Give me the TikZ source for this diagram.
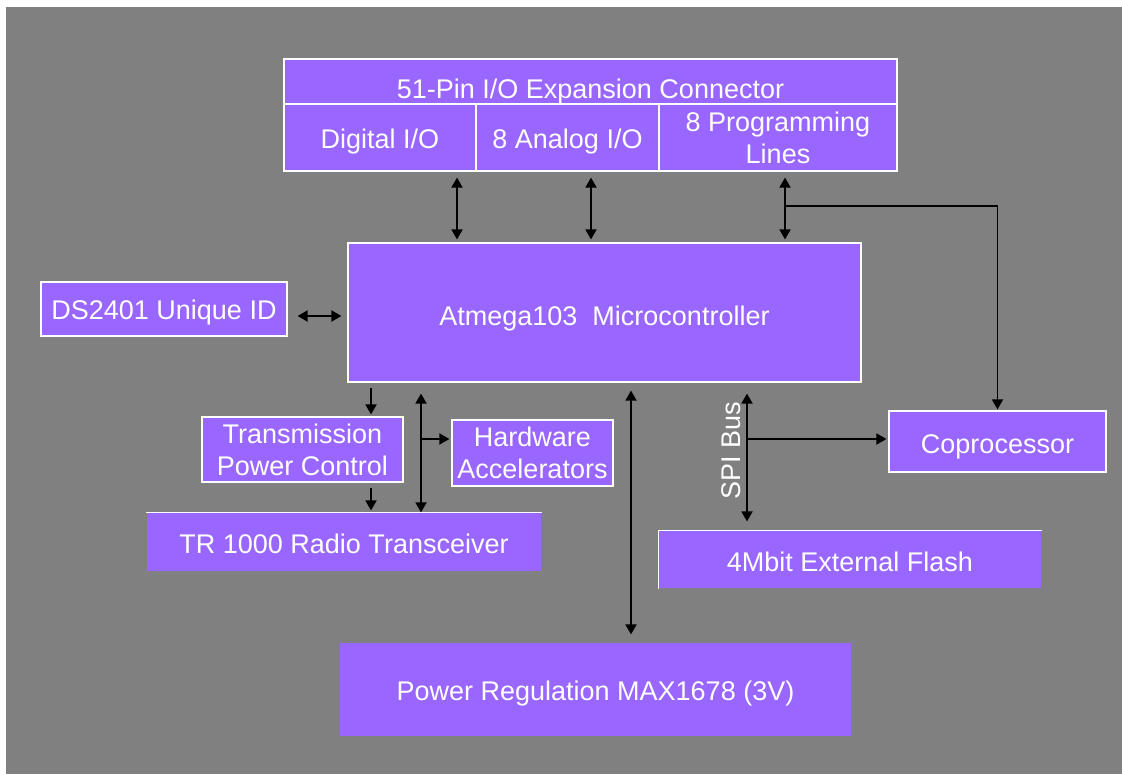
\documentclass[tikz,border=0pt]{standalone}
\usepackage{fontspec}
\setmainfont{Liberation Sans}
\usetikzlibrary{arrows.meta}
\definecolor{bg}{HTML}{808080}
\definecolor{boxc}{HTML}{9966FF}
\begin{document}
\begin{tikzpicture}[x=1pt,y=-1pt,
  blk/.style={fill=boxc, draw=white, line width=1.2pt, text=white, inner sep=0pt, font=\fontsize{27}{32}\selectfont, align=center},
  nob/.style={blk, draw=none},
  one/.style={text height=#1, text depth=0pt},
  con/.style={draw=black, line width=1.8pt, -{Triangle[width=11pt,length=10pt]}},
  dbl/.style={draw=black, line width=1.8pt, {Triangle[width=11pt,length=10pt]}-{Triangle[width=11pt,length=10pt]}},
  lbl/.style={text=white, inner sep=0pt, font=\fontsize{27}{32}\selectfont}]
\useasboundingbox (0,0) rectangle (1122,774);
\fill[bg] (6,7) rectangle (1122,774);

% top connector
\node[blk, one=33pt, minimum width=613pt, minimum height=45pt] (title) at (590.5,81.5) {51-Pin I/O Expansion Connector};
\node[blk, one=21pt, minimum width=192pt, minimum height=67pt] (dio) at (380,137.5) {Digital I/O};
\node[blk, one=21pt, minimum width=183pt, minimum height=67pt] (aio) at (567.5,137.5) {8 Analog I/O};
\node[blk, minimum width=238pt, minimum height=67pt] (pio) at (778,137.5) {8 Programming\\Lines};

% main blocks
\node[blk, one=26.5pt, minimum width=513pt, minimum height=139pt] (micro) at (604.5,312.5) {Atmega103\ \ Microcontroller};
\node[blk, one=21.5pt, minimum width=246pt, minimum height=54pt] (ds) at (164,309) {DS2401 Unique ID};
\node[blk, minimum width=201pt, minimum height=65pt] (tpc) at (302.5,449.5) {Transmission\\Power Control};
\node[blk, minimum width=161pt, minimum height=66pt] (hwa) at (532.5,453) {Hardware\\Accelerators};
\node[nob, one=23.4pt, minimum width=394pt, minimum height=58pt] (tr) at (344,542) {TR 1000 Radio Transceiver};
\node[blk, one=24.4pt, minimum width=217pt, minimum height=61pt] (coproc) at (997.5,441.5) {Coprocessor};
\node[nob, one=24.4pt, minimum width=382pt, minimum height=57pt] (flash) at (850,559.5) {4Mbit External Flash};
\node[nob, one=22.4pt, minimum width=511pt, minimum height=93pt] (power) at (595.5,689.5) {Power Regulation MAX1678 (3V)};
\draw[white, line width=1.2pt] (tr.north west) -- (tr.north east);
\draw[white, line width=1.2pt] (flash.south west) -- (flash.north west) -- (flash.north east);

\node[lbl, rotate=90] (spi) at (731,451) {SPI Bus};

% connector x positions
\coordinate (c1) at (457,0);
\coordinate (c2) at (591,0);
\coordinate (c3) at (785,0);
\coordinate (c4) at (371,0);
\coordinate (c5) at (421,0);
\coordinate (c6) at (631,0);
\coordinate (c7) at (747,0);
\coordinate (j1) at (785,206);
\coordinate (j2) at (421,439);
\coordinate (j3) at (747,439);
\coordinate (j4) at (0,316);

% top arrows
\draw[dbl, shorten <=6pt, shorten >=3pt] (c1 |- dio.south) -- (c1 |- micro.north);
\draw[dbl, shorten <=6pt, shorten >=3pt] (c2 |- aio.south) -- (c2 |- micro.north);
\draw[dbl, shorten <=6pt, shorten >=3pt] (c3 |- pio.south) -- (c3 |- micro.north);
\draw[con, shorten >=1pt] (j1) -| (coproc.north);

% left
\draw[dbl, shorten <=10pt, shorten >=6pt] (j4 -| ds.east) -- (j4 -| micro.west);

% bottom left
\draw[con, shorten <=5pt, shorten >=2pt] (c4 |- micro.south) -- (c4 |- tpc.north);
\draw[con, shorten <=5pt, shorten >=2pt] (c4 |- tpc.south) -- (c4 |- tr.north);
\draw[dbl, shorten <=11pt, shorten >=0pt] (c5 |- micro.south) -- (c5 |- tr.north);
\draw[con, shorten >=2pt] (j2) -- (j2 -| hwa.west);

% power
\draw[dbl, shorten <=8pt, shorten >=8pt] (c6 |- micro.south) -- (c6 |- power.north);

% SPI bus
\draw[dbl, shorten <=11pt, shorten >=9pt] (c7 |- micro.south) -- (c7 |- flash.north);
\draw[con, shorten >=2pt] (j3) -- (j3 -| coproc.west);
\end{tikzpicture}
\end{document}
